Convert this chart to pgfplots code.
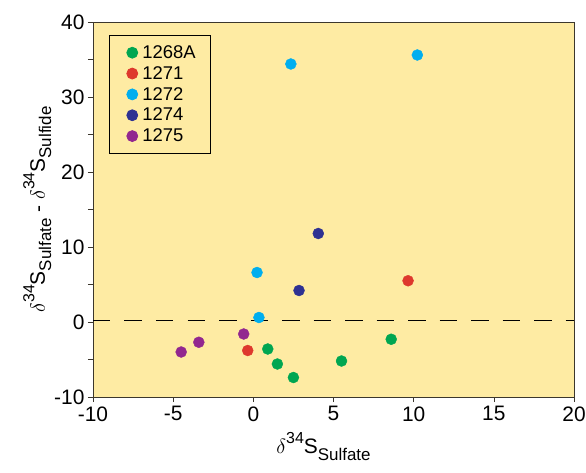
\documentclass[border=0pt]{standalone}
\usepackage{fontspec}
\setmainfont{Liberation Sans}
\usepackage{pgfplots}
\pgfplotsset{compat=1.18}

\definecolor{bgyellow}{RGB}{254,235,163}
\definecolor{framecol}{RGB}{60,55,45}
\definecolor{cgreen}{RGB}{0,166,81}
\definecolor{cred}{RGB}{222,56,45}
\definecolor{ccyan}{RGB}{0,174,239}
\definecolor{cnavy}{RGB}{46,49,146}
\definecolor{cpurple}{RGB}{146,39,143}

\newcommand{\sps}[1]{\raisebox{0.5em}{\fontsize{16}{16}\selectfont #1}}
\newcommand{\sbs}[1]{\raisebox{-0.3em}{\fontsize{17}{17}\selectfont #1}}
\newcommand{\dS}{\(\delta\)\sps{34}S}

\begin{document}
\begin{tikzpicture}
\begin{axis}[
    scale only axis,
    width=481bp, height=375bp,
    xmin=-10, xmax=20,
    ymin=-10, ymax=40,
    xtick={-10,-5,0,5,10,15,20},
    ytick={-10,0,10,20,30,40},
    minor ytick={-5,5,15,25,35},
    tick align=outside,
    tick pos=left,
    major tick length=5bp,
    minor tick length=5bp,
    every tick/.style={framecol, line width=0.6pt},
    axis line style={framecol, line width=0.8pt},
    axis background/.style={fill=bgyellow},
    /pgf/number format/assume math mode=true,
    tick label style={font=\fontsize{21}{22}\selectfont},
    xticklabel style={yshift=-1bp},
    label style={font=\fontsize{21}{22}\selectfont},
    xlabel={\dS\sbs{Sulfate}},
    ylabel={\dS\sbs{Sulfate} - \dS\sbs{Sulfide}},
    xlabel style={yshift=-4bp, xshift=-10bp},
    ylabel style={yshift=-4bp},
    legend style={at={(0.033,0.965)}, anchor=north west, draw=black,
        line width=0.8pt, fill=bgyellow,
        font=\fontsize{18.5}{19}\selectfont, row sep=2.5bp,
        inner xsep=13bp, inner ysep=8bp},
    legend cell align=left,
    legend image code/.code={\path[draw=none, fill=none] (0,0) -- (18bp,0); \fill (10bp,0cm) circle (5.5bp);},
    every axis plot/.append style={only marks, mark=*, mark size=5.5bp},
]
\addplot[cgreen, mark options={draw=cgreen, fill=cgreen}] coordinates {
    (0.9,-3.6) (1.5,-5.6) (2.5,-7.4) (5.5,-5.2) (8.6,-2.3)};
\addplot[cred, mark options={draw=cred, fill=cred}] coordinates {
    (-0.35,-3.8) (9.65,5.5)};
\addplot[ccyan, mark options={draw=ccyan, fill=ccyan}] coordinates {
    (0.35,0.6) (0.23,6.6) (2.34,34.4) (10.23,35.6)};
\addplot[cnavy, mark options={draw=cnavy, fill=cnavy}] coordinates {
    (4.05,11.8) (2.85,4.2)};
\addplot[cpurple, mark options={draw=cpurple, fill=cpurple}] coordinates {
    (-4.5,-4.0) (-3.4,-2.7) (-0.6,-1.6)};
\legend{1268A,1271,1272,1274,1275}
\addplot[black, no marks, sharp plot, line width=0.9pt,
    dash pattern=on 17.5bp off 14bp, forget plot] coordinates {(-10,0.2) (20,0.2)};
\end{axis}
\pgfresetboundingbox
\path ([shift={(-93bp,-76bp)}]current axis.south west) rectangle ([shift={(12bp,22bp)}]current axis.north east);
\end{tikzpicture}
\end{document}
